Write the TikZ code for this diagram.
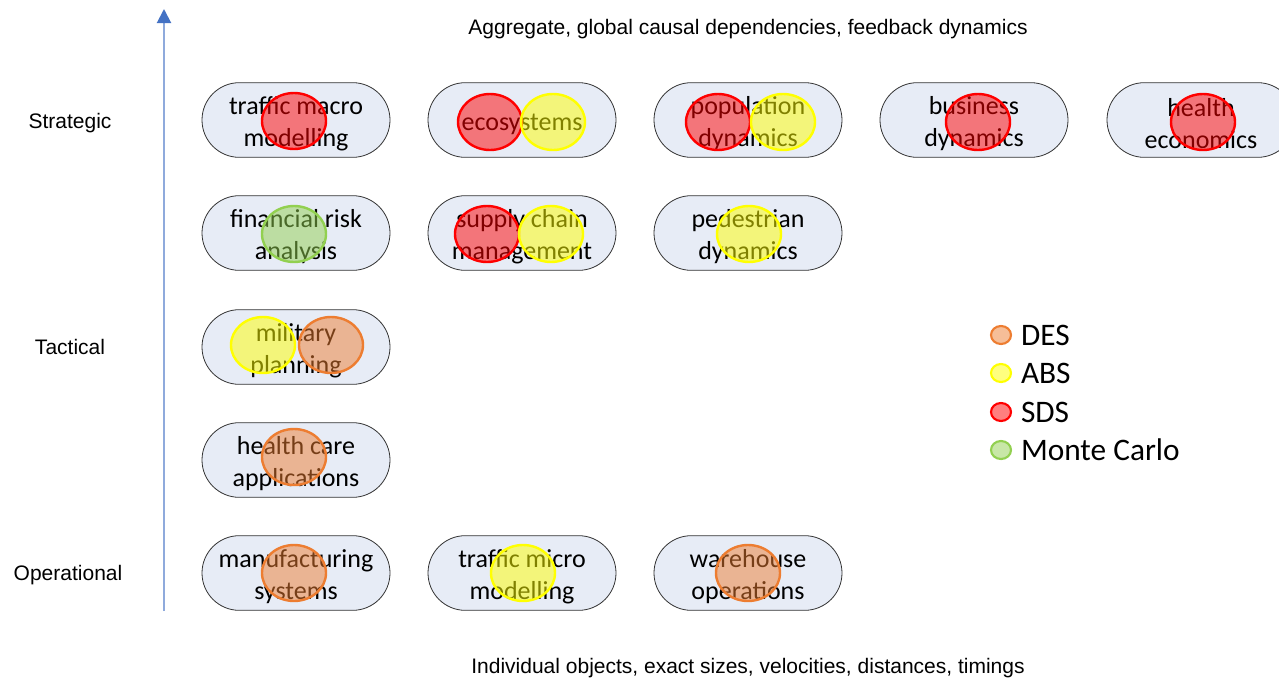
\documentclass[tikz,border=0pt]{standalone}
\usepackage{fontspec}
\setmainfont{Carlito}
\newfontfamily\arialfont{Liberation Sans}
\usetikzlibrary{
    arrows.meta,
    positioning,
    shapes.geometric,
    shapes.misc
}

\definecolor{boxfill}{HTML}{E7ECF6}
\definecolor{desline}{HTML}{ED7D31}
\definecolor{absline}{HTML}{FFFF00}
\definecolor{sdsline}{HTML}{FF0000}
\definecolor{mcline}{HTML}{92D050}
\definecolor{axisline}{HTML}{8FAADC}
\definecolor{axishead}{HTML}{4472C4}

% taller first line, pushes the text a little down in its box
\newcommand\topstrut{\rule{0pt}{19pt}}

\tikzset{
    task/.style={rounded rectangle, draw=black!80, fill=boxfill, line width=0.6pt,
        minimum width=141pt, minimum height=56pt, inner sep=0pt, align=center,
        font=\fontsize{19.5}{24}\selectfont},
    blob/.style={ellipse, line width=1.8pt, minimum width=48pt, minimum height=42pt,
        inner sep=0pt, fill opacity=0.5},
    des/.style={blob, draw=desline, fill=desline},
    abs/.style={blob, draw=absline, fill=absline},
    sds/.style={blob, draw=sdsline, fill=sdsline},
    mc/.style={blob, draw=mcline, fill=mcline},
    key/.style={minimum width=15pt, minimum height=13.5pt, line width=1.6pt},
    level/.style={font=\arialfont\fontsize{15.75}{18}\selectfont}
}

\begin{document}
\begin{tikzpicture}[x=0.75pt,y=-0.75pt]

\useasboundingbox (0,0) rectangle (1279,679);

% Axis
\coordinate (axbot) at (164,611);
\coordinate (axtop) at (164,9);
\draw[axisline, line width=1.5pt,
      -{Triangle[color=axishead,width=10.5pt,length=10.5pt]}] (axbot) -- (axtop);

\node[level] (strat) at (70,123) {Strategic};
\node[level] (tact) at (70,347) {Tactical};
\node[level] (oper) at (68,575) {Operational};

\node[level] (toptext) at (748,29) {Aggregate, global causal dependencies, feedback dynamics};
\node[level] (bottext) at (748,668) {Individual objects, exact sizes, velocities, distances, timings};

% Application areas
\node[task] (tmac) at (296,120) {\topstrut traffic macro\\modelling};
\node[task] (eco) at (522,120) {\topstrut ecosystems};
\node[task] (pop) at (748,120) {\topstrut population\\dynamics};
\node[task] (bus) at (974,120) {\topstrut business\\dynamics};
\node[task] (heco) at (1201,120) {\topstrut health\\economics};

\node[task] (fin) at (296,233) {\topstrut financial risk\\analysis};
\node[task] (supply) at (522,233) {\topstrut supply chain\\management};
\node[task] (ped) at (748,233) {\topstrut pedestrian\\dynamics};

\node[task] (mil) at (296,347) {\topstrut military\\planning};
\node[task] (hc) at (296,460) {\topstrut health care\\applications};

\node[task] (manu) at (296,573) {\topstrut manufacturing\\systems};
\node[task] (tmic) at (522,573) {\topstrut traffic micro\\modelling};
\node[task] (ware) at (748,573) {\topstrut warehouse\\operations};

% Methods
\node[sds] (tmac-s) at (294,121) {};
\node[sds] (eco-s) at (490,122) {};
\node[abs] (eco-a) at (553,122) {};
\node[sds] (pop-s) at (718,122) {};
\node[abs] (pop-a) at (783,122) {};
\node[sds] (bus-s) at (978,122) {};
\node[sds] (heco-s) at (1203,122) {};

\node[mc] (fin-m) at (294,234) {};
\node[sds] (supply-s) at (487,234) {};
\node[abs] (supply-a) at (551,234) {};
\node[abs] (ped-a) at (749,234) {};

\node[abs] (mil-a) at (263,345) {};
\node[des] (mil-d) at (331,345) {};
\node[des] (hc-d) at (294,457) {};

\node[des] (manu-d) at (294,573) {};
\node[abs] (tmic-a) at (523,573) {};
\node[des] (ware-d) at (748,573) {};

% Legend
\foreach \s/\t/\y in {des/DES/335, abs/ABS/373, sds/SDS/412, mc/Monte Carlo/450}{
    \node[\s, key] (key-\s) at (1001,\y) {};
    \node[right=6.5pt of key-\s, inner sep=0pt, font=\fontsize{23.5}{26}\selectfont]
        (lab-\s) {\t};
}

\end{tikzpicture}
\end{document}
